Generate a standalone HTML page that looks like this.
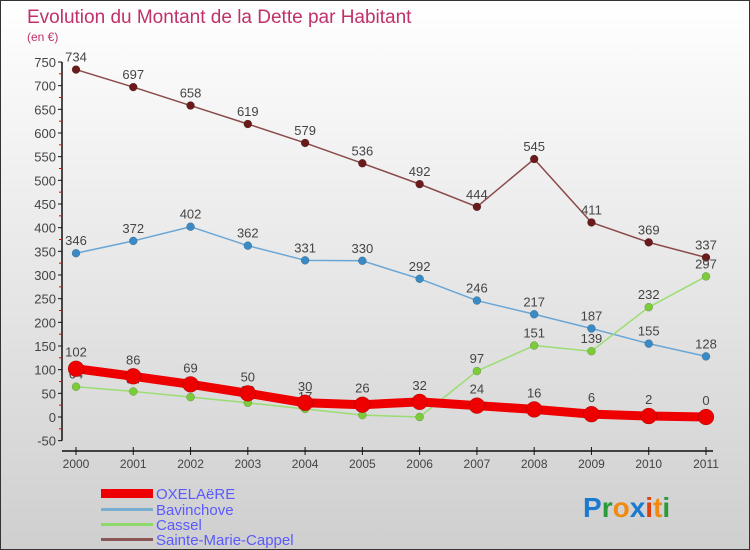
<!DOCTYPE html>
<html><head><meta charset="utf-8"><style>
body{margin:0}
#c{width:750px;height:550px;position:relative;background:linear-gradient(#fff,#cfcfcf);font-family:"Liberation Sans",sans-serif;box-sizing:border-box;border:1px solid #333;overflow:hidden}
svg text{font-family:"Liberation Sans",sans-serif}
</style></head><body>
<div id="c">
<svg id="s" width="750" height="550">
<text x="26" y="22" font-size="19" fill="#c0306a">Evolution du Montant de la Dette par Habitant</text>
<text x="26" y="40" font-size="12" fill="#c0306a">(en €)</text>
<g id="axes"></g><g id="series"></g>
<g>
<rect x="100" y="488" width="52" height="9" fill="#e00"/>
<text x="155" y="498" font-size="15" fill="#5a5aff">OXELAëRE</text>
<rect x="100" y="507" width="52" height="3" fill="#7aaed0"/>
<text x="155" y="514" font-size="15" fill="#5a5aff">Bavinchove</text>
<rect x="100" y="522" width="52" height="3" fill="#8fd86a"/>
<text x="155" y="529" font-size="15" fill="#5a5aff">Cassel</text>
<rect x="100" y="537" width="52" height="3" fill="#8a5555"/>
<text x="155" y="544" font-size="15" fill="#5a5aff">Sainte-Marie-Cappel</text>
</g>
<text x="582" y="516" font-size="28" font-weight="bold"><tspan fill="#1a7ad0">P</tspan><tspan fill="#2a9a3a">r</tspan><tspan fill="#f08a10">o</tspan><tspan fill="#1a7ad0">x</tspan><tspan fill="#e04010">i</tspan><tspan fill="#f08a10">t</tspan><tspan fill="#2a9a3a">i</tspan></text>
</svg>
</div>
<script>
const years=[2000,2001,2002,2003,2004,2005,2006,2007,2008,2009,2010,2011];
const yTicks=[-50,0,50,100,150,200,250,300,350,400,450,500,550,600,650,700,750];
const oxelaere=[102,86,69,50,30,26,32,24,16,6,2,0];
const bavinchove=[346,372,402,362,331,330,292,246,217,187,155,128];
const cassel=[64,54,42,30,17,4,0,97,151,139,232,297];
const smc=[734,697,658,619,579,536,492,444,545,411,369,337];
const NS='http://www.w3.org/2000/svg';
const X=i=>75+i*(705-75)/(years.length-1);
const Y=v=>416-v*(355/750);
function mk(t,a,p){const e=document.createElementNS(NS,t);for(const k in a)e.setAttribute(k,a[k]);p.appendChild(e);return e;}
const ax=document.getElementById('axes'),sg=document.getElementById('series');
const yl=mk('line',{x1:61,y1:Y(750),x2:61,y2:Y(-50),stroke:'#111','stroke-width':1.5},ax);


const xl=mk('line',{x1:61,y1:450,x2:712,y2:450,stroke:'#111','stroke-width':1.5},ax);


yTicks.forEach((v,i)=>{
 mk('line',{x1:57,y1:Y(v),x2:61,y2:Y(v),stroke:'#111'},ax);
 if(i<yTicks.length-1)mk('line',{x1:58,y1:Y(v+25),x2:61,y2:Y(v+25),stroke:'#e00'},ax);
 const t=mk('text',{x:55,y:Y(v)+5,'font-size':13,fill:'#444','text-anchor':'end'},ax);
 t.textContent=v;
 
 
});
years.forEach((y,i)=>{
 mk('line',{x1:X(i),y1:446,x2:X(i),y2:454,stroke:'#111'},ax);
 const t=mk('text',{x:X(i),y:467,'font-size':12,fill:'#444','text-anchor':'middle'},ax);
 t.textContent=y;
 
 
});
function series(data,color,dot,w,r,name,fs){
 const g=mk('g',{},sg);
 
 
 const pl=mk('polyline',{points:data.map((v,i)=>X(i)+','+Y(v)).join(' '),fill:'none',stroke:color,'stroke-width':w,'stroke-linejoin':'round'},g);
 
 
 data.forEach((v,i)=>{
  const c=mk('circle',{cx:X(i),cy:Y(v),r:r,fill:dot,stroke:'rgba(0,0,0,0.3)','stroke-width':0.5},g);
  
  
  const t=mk('text',{x:X(i),y:Y(v)-r-4,'font-size':13,fill:'#444','text-anchor':'middle'},g);
  t.textContent=v;
  
  
 });
}
series(smc,'#8a4a4a','#6a1a1a',1.5,4,'sainte-marie-cappel');
series(bavinchove,'#6aa6d6','#3a8ac6',1.5,4,'bavinchove');
series(cassel,'#9add72','#7ccc3a',1.5,4,'cassel');
series(oxelaere,'#ee0000','#ee0000',9,8,'oxelaere');
</script>
</body></html>
